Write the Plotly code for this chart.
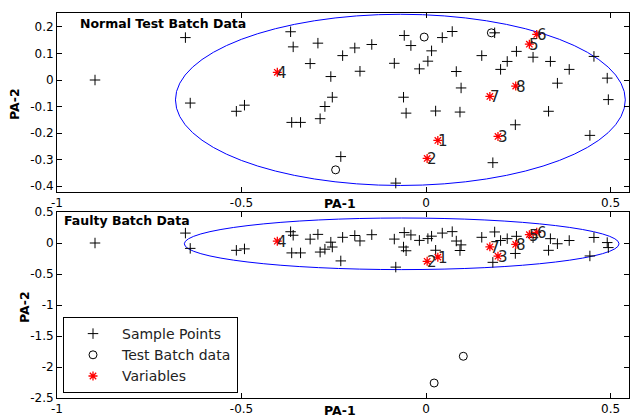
import plotly.graph_objects as go

# Principal-axis scores of the sample points (PA-1, PA-2)
sample_pa1 = [-0.897, -0.652, -0.639, -0.514, -0.492, -0.367, -0.360, -0.364, -0.340,
              -0.314, -0.293, -0.287, -0.274, -0.254, -0.258, -0.226, -0.193, -0.147,
              -0.179, -0.231, -0.086, -0.059, -0.041, 0.044, 0.071, 0.015, 0.005,
              -0.018, 0.082, 0.095, -0.061, -0.054, 0.026, 0.092, -0.082, 0.151,
              0.186, 0.245, 0.290, 0.337, 0.220, 0.202, 0.388, 0.455, 0.491, 0.494,
              0.356, 0.332, 0.242, 0.444, 0.181]
sample_pa2 = [0.000, 0.160, -0.087, -0.118, -0.095, 0.182, 0.125, -0.160, -0.160,
              0.062, 0.139, -0.146, -0.100, -0.065, 0.013, 0.092, 0.121, 0.134,
              0.033, -0.289, 0.063, 0.168, 0.130, 0.160, 0.183, 0.110, 0.071,
              0.042, 0.032, -0.030, -0.065, -0.125, -0.117, -0.121, -0.389, 0.092,
              0.178, 0.108, 0.086, 0.070, 0.070, 0.040, 0.040, 0.089, 0.007, -0.074,
              -0.012, -0.118, -0.169, -0.209, -0.312]

# Variable loadings and their labels
var_labels = ["1", "2", "3", "4", "5", "6", "7", "8"]
var_pa1 = [0.032, 0.003, 0.195, -0.403, 0.280, 0.300, 0.173, 0.243]
var_pa2 = [-0.228, -0.296, -0.213, 0.029, 0.135, 0.172, -0.062, -0.023]

# Projected test batches
normal_pa1 = [-0.005, 0.177, -0.245]
normal_pa2 = [0.162, 0.178, -0.339]
faulty_pa1 = [0.101, 0.022]
faulty_pa2 = [-1.827, -2.258]

# Control-limit ellipses: (pa1 min, pa1 max, pa2 min, pa2 max)
normal_limit = (-0.679, 0.540, -0.398, 0.248)
faulty_limit = (-0.655, 0.523, -0.429, 0.403)

# Axis ticks
x_ticks = [-1, -0.5, 0, 0.5]
x_ticktext = ["-1", "-0.5", "0", "0.5"]
y1_ticks = [-0.4, -0.3, -0.2, -0.1, 0, 0.1, 0.2]
y1_ticktext = ["-0.4", "-0.3", "-0.2", "-0.1", "0", "0.1", "0.2"]
y2_ticks = [-2.5, -2, -1.5, -1, -0.5, 0, 0.5]
y2_ticktext = ["-2.5", "-2", "-1.5", "-1", "-0.5", "0", "0.5"]

FONT = "DejaVu Sans, Verdana, sans-serif"
W, H = 630, 417
ML, MR, MT, MB = 57, 1, 13, 19
PW, PH = W - ML - MR, H - MT - MB


def px_x(px):
    return (px - ML) / PW


def px_y(py):
    return (H - MB - py) / PH


fig = go.Figure()

plus = dict(symbol="cross-thin-open", size=7.5, color="black", line=dict(width=1, color="black"))
ring = dict(symbol="circle-open", size=8, color="black", line=dict(width=1, color="black"))
star = dict(symbol="asterisk-open", size=7.5, color="red", line=dict(width=1.3, color="red"))

for i, (xa, ya, tx, ty) in enumerate([("x", "y", normal_pa1, normal_pa2),
                                      ("x2", "y2", faulty_pa1, faulty_pa2)]):
    show = i == 1
    fig.add_trace(go.Scatter(x=sample_pa1, y=sample_pa2, mode="markers", marker=plus,
                             name="Sample Points", legendgroup="s", showlegend=show,
                             xaxis=xa, yaxis=ya))
    fig.add_trace(go.Scatter(x=tx, y=ty, mode="markers", marker=ring,
                             name="Test Batch data", legendgroup="t", showlegend=show,
                             xaxis=xa, yaxis=ya))
    fig.add_trace(go.Scatter(x=var_pa1, y=var_pa2, mode="markers", marker=star,
                             name="Variables", legendgroup="v", showlegend=show,
                             xaxis=xa, yaxis=ya))
    for lab, vx, vy in zip(var_labels, var_pa1, var_pa2):
        fig.add_annotation(x=vx, y=vy, xref=xa, yref=ya, text=lab, showarrow=False,
                           xanchor="left", yanchor="middle", xshift=-2, yshift=-1,
                           font=dict(family=FONT, size=15, color="#222"))

# Control-limit ellipses
for (x0, x1, y0, y1), xa, ya in [(normal_limit, "x", "y"), (faulty_limit, "x2", "y2")]:
    fig.add_shape(type="circle", xref=xa, yref=ya, x0=x0, x1=x1, y0=y0, y1=y1,
                  line=dict(color="blue", width=1), layer="below")

axis_common = dict(showline=True, linecolor="black", linewidth=1, mirror="allticks",
                   ticks="inside", ticklen=5, tickcolor="black", showgrid=False,
                   zeroline=False, tickfont=dict(family=FONT, size=12, color="black"))

fig.update_layout(
    width=W, height=H,
    margin=dict(l=ML, r=MR, t=MT, b=MB),
    paper_bgcolor="white", plot_bgcolor="white",
    xaxis=dict(domain=[0, 1], range=[-1, 0.55], anchor="y", tickvals=x_ticks,
               ticktext=x_ticktext, **axis_common),
    yaxis=dict(domain=[px_y(192), 1], range=[-0.4226, 0.2528], anchor="x",
               tickvals=y1_ticks, ticktext=y1_ticktext, **axis_common),
    xaxis2=dict(domain=[0, 1], range=[-1, 0.55], anchor="y2", tickvals=x_ticks,
                ticktext=x_ticktext, **axis_common),
    yaxis2=dict(domain=[0, px_y(212)], range=[-2.5, 0.5], anchor="x2",
                tickvals=y2_ticks, ticktext=y2_ticktext, **axis_common),
    legend=dict(x=px_x(63), y=px_y(393), xanchor="left", yanchor="bottom",
                bgcolor="white", bordercolor="black", borderwidth=1,
                font=dict(family=FONT, size=14, color="#222"), itemwidth=48,
                tracegroupgap=0),
    showlegend=True,
)

bold = dict(family=FONT, size=12.5, color="black")
texts = [
    ("<b>Normal Test Batch Data</b>", px_x(78), px_y(23), "left", 0),
    ("<b>Faulty Batch Data</b>", px_x(62), px_y(221), "left", 0),
    ("<b>PA-1</b>", px_x(340), px_y(203), "center", 0),
    ("<b>PA-1</b>", px_x(340), px_y(411), "center", 0),
    ("<b>PA-2</b>", px_x(15), px_y(104), "center", -90),
    ("<b>PA-2</b>", px_x(24), px_y(307), "center", -90),
]
for t, ax, ay, anc, rot in texts:
    fig.add_annotation(x=ax, y=ay, xref="paper", yref="paper", text=t, showarrow=False,
                       xanchor=anc, yanchor="middle", textangle=rot, font=bold)

fig.write_html("out.html")
